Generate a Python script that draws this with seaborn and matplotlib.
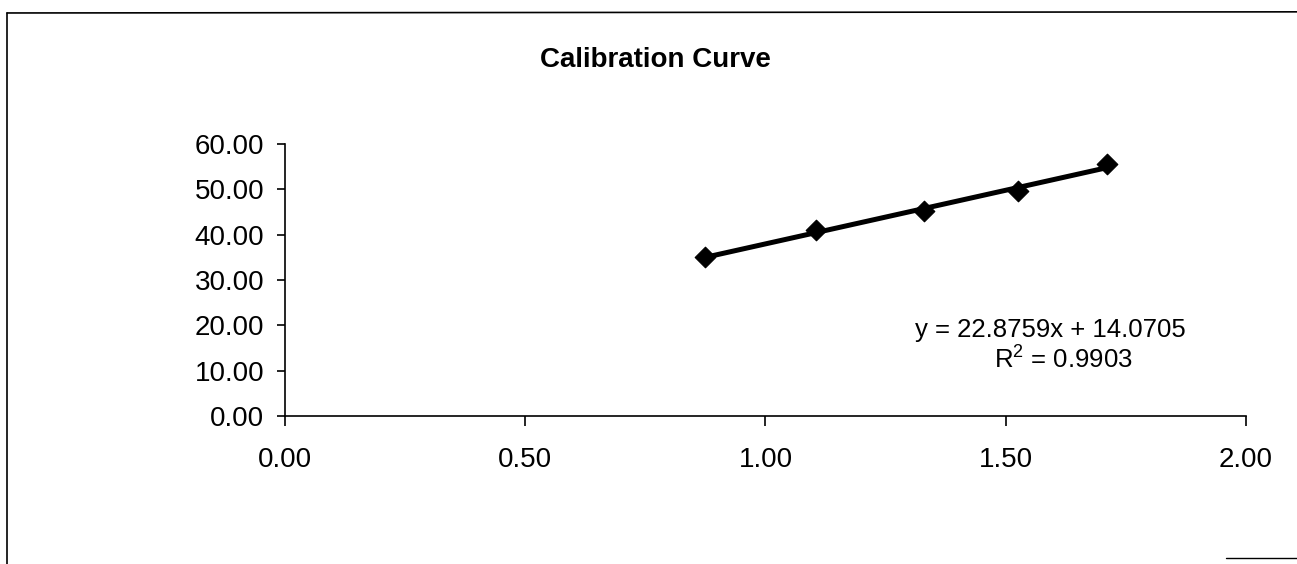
import numpy as np
import pandas as pd
import matplotlib
matplotlib.use("Agg")
import matplotlib.pyplot as plt
from matplotlib.lines import Line2D
import seaborn as sns

# Data
absorbance = [0.875, 1.105, 1.330, 1.525, 1.710]
concentration = [35.0, 41.0, 45.3, 49.5, 55.5]
x_ticks = [0.0, 0.5, 1.0, 1.5, 2.0]
y_ticks = [0, 10, 20, 30, 40, 50, 60]
title = "Calibration Curve"
eq_text = "y = 22.8759x + 14.0705"
r2_text = "R$^2$ = 0.9903"

df = pd.DataFrame({"x": absorbance, "y": concentration})

sns.set_theme(style="white")
plt.rcParams["font.family"] = ["Liberation Sans", "DejaVu Sans"]
plt.rcParams["mathtext.fontset"] = "custom"
plt.rcParams["mathtext.rm"] = "Liberation Sans"

fig = plt.figure(figsize=(12.97, 5.64), dpi=100)
ax = fig.add_axes([0.2197, 0.262, 0.741, 0.483])

sns.regplot(data=df, x="x", y="y", ax=ax, scatter=False, ci=None, truncate=True,
            line_kws=dict(color="black", lw=3.6))
sns.scatterplot(data=df, x="x", y="y", ax=ax, marker="D", s=110, color="black",
                edgecolor="black", zorder=5)

ax.set_xlim(0, 2)
ax.set_ylim(0, 60)
ax.set_xticks(x_ticks)
ax.set_yticks(y_ticks)
ax.set_xticklabels([f"{v:.2f}" for v in x_ticks], fontsize=20, color="black")
ax.set_yticklabels([f"{v:.2f}" for v in y_ticks], fontsize=20, color="black")
ax.set_xlabel("")
ax.set_ylabel("")
for s in ["top", "right"]:
    ax.spines[s].set_visible(False)
for s in ["left", "bottom"]:
    ax.spines[s].set_color("black")
    ax.spines[s].set_linewidth(1.2)
ax.tick_params(axis="x", direction="out", length=7, width=1.2, color="black", pad=15)
ax.tick_params(axis="y", direction="out", length=6, width=1.2, color="black", pad=9)
ax.tick_params(bottom=True, left=True)

ax.text(1.592, 19.1, eq_text, ha="center", va="center", fontsize=18.5, color="black")
ax.text(1.62, 12.6, r2_text, ha="center", va="center", fontsize=18.5, color="black")

fig.text(0.505, 0.894, title, ha="center", va="center", fontsize=20,
         fontweight="bold", color="black")

# outer chart border (left and top edges visible in the reference)
fig.add_artist(Line2D([0.0054, 0.0054], [0.0, 0.977], color="black", lw=1.2,
                      transform=fig.transFigure))
fig.add_artist(Line2D([0.0054, 1.0], [0.977, 0.979], color="black", lw=1.2,
                      transform=fig.transFigure))
fig.add_artist(Line2D([0.945, 1.0], [0.011, 0.011], color="black", lw=1.0,
                      transform=fig.transFigure))

fig.savefig("out.png", dpi=100)
